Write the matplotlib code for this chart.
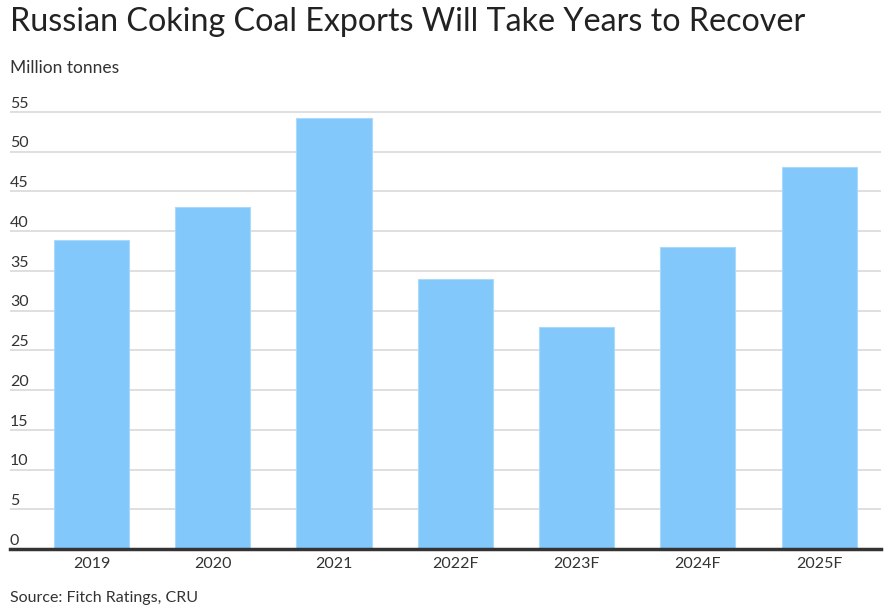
import matplotlib.pyplot as plt
import matplotlib.transforms as mtransforms

plt.rcParams['font.family'] = ['Lato', 'DejaVu Sans']

years = ['2019', '2020', '2021', '2022F', '2023F', '2024F', '2025F']
exports = [38.9, 43.0, 54.2, 34.0, 27.9, 38.0, 48.1]
yticks = [0, 5, 10, 15, 20, 25, 30, 35, 40, 45, 50, 55]

fig = plt.figure(figsize=(8.95, 6.09), dpi=100)
ax = fig.add_axes([10 / 895, 1 - 549 / 609, 871 / 895, (549 - 104) / 609])

x = range(len(years))
ax.bar(x, exports, width=0.62, color='#83c8fa', edgecolor='#a9d9fb', linewidth=0.8, zorder=2)

ax.set_xlim(-0.672, 6.51)
ax.set_ylim(0, 56)
ax.set_yticks(yticks)
ax.set_yticklabels([])
ax.tick_params(axis='y', length=0)
ax.grid(axis='y', color='#d9d9d9', linewidth=1.2, zorder=0)
ax.set_xticks(list(x))
ax.set_xticklabels(years, fontsize=11.5, color='#333333')
ax.tick_params(axis='x', length=0, pad=6)

for s in ['top', 'right', 'left']:
    ax.spines[s].set_visible(False)
ax.spines['bottom'].set_color('#333333')
ax.spines['bottom'].set_linewidth(2.5)
ax.spines['bottom'].set_zorder(3)

# y labels sit above the gridlines at the left edge
trans = mtransforms.blended_transform_factory(ax.transAxes, ax.transData)
for v in yticks:
    ax.text(0, v + 0.15, str(v), transform=trans, fontsize=11.5, color='#333333',
            ha='left', va='bottom')

fig.text(10 / 895, 1 - 22 / 609, 'Russian Coking Coal Exports Will Take Years to Recover',
         fontsize=23.2, color='#222222', ha='left', va='center')
fig.text(10 / 895, 1 - 68 / 609, 'Million tonnes', fontsize=12.5, color='#333333',
         ha='left', va='center')
fig.text(10 / 895, 1 - 598 / 609, 'Source: Fitch Ratings, CRU', fontsize=11.5, color='#333333',
         ha='left', va='center')

fig.savefig('out.png', dpi=100, facecolor='white')
